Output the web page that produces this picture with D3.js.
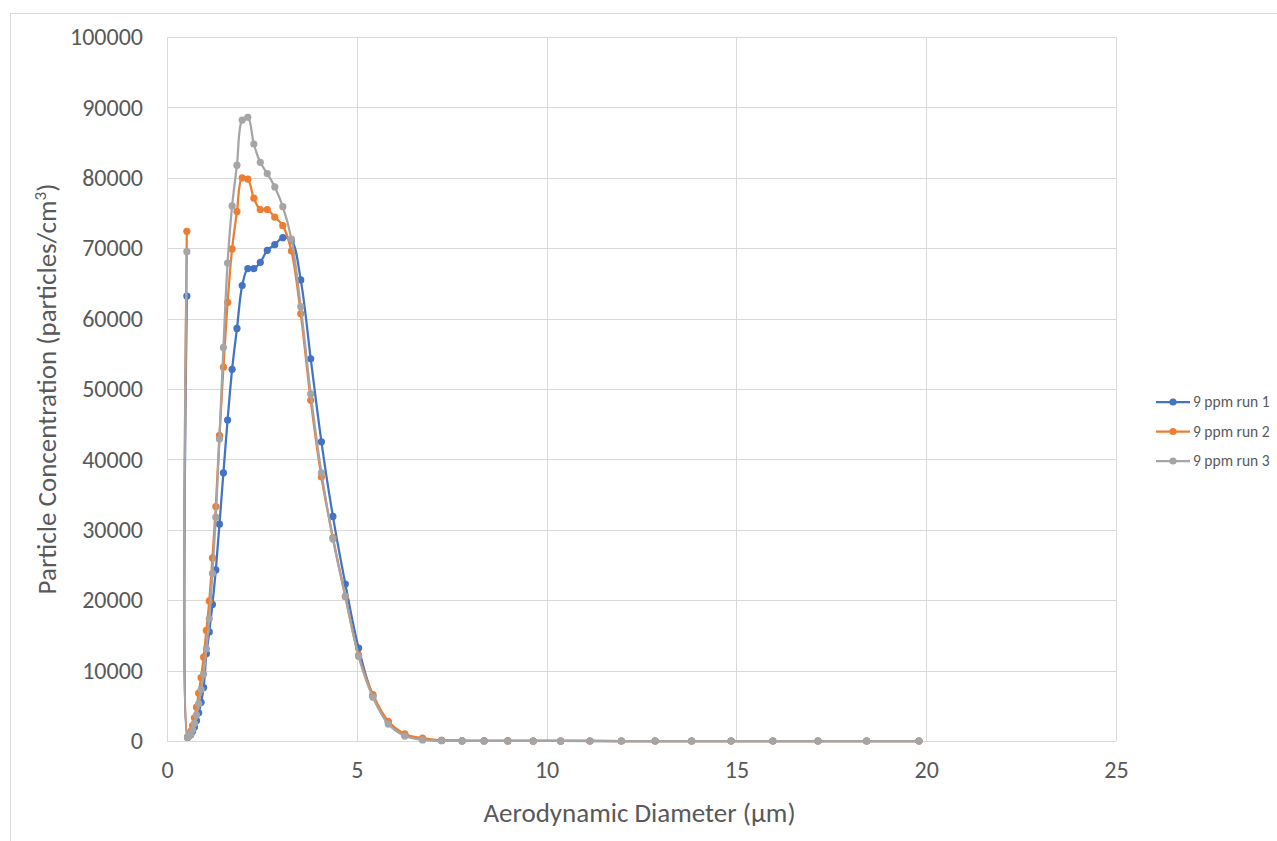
<!DOCTYPE html>
<html>
<head>
<meta charset="utf-8">
<script src="https://cdn.jsdelivr.net/npm/d3@7"></script>
<style>
  html, body { margin: 0; padding: 0; background: #fff; }
  svg { display: block; font-family: Carlito, Lato, "Open Sans", sans-serif; }
</style>
</head>
<body>
<svg id="chart" width="1277" height="841"></svg>
<script>
// APS channel midpoints (µm)
const diameters = [0.523, 0.542, 0.583, 0.626, 0.673, 0.723, 0.777, 0.835, 0.898, 0.965,
  1.037, 1.114, 1.197, 1.286, 1.382, 1.486, 1.596, 1.715, 1.843, 1.981,
  2.129, 2.288, 2.458, 2.642, 2.839, 3.051, 3.278, 3.523, 3.786, 4.068,
  4.371, 4.698, 5.048, 5.425, 5.829, 6.264, 6.732, 7.234, 7.774, 8.354,
  8.977, 9.647, 10.37, 11.14, 11.97, 12.86, 13.82, 14.86, 15.96, 17.15,
  18.43, 19.81];

// Particle concentration (particles/cm³) per channel
const run1 = [63200, 500, 700, 900, 1400, 2000, 2900, 4000, 5500, 7600,
  12400, 15500, 19400, 24300, 30800, 38100, 45600, 52800, 58600, 64700,
  67100, 67100, 68000, 69700, 70500, 71500, 71100, 65500, 54300, 42500,
  31900, 22300, 13200, 6400, 2700, 900, 250, 80, 30, 12,
  6, 3, 2, 1, 0, 0, 0, 0, 0, 0, 0, 0];

const run2 = [72400, 600, 900, 1400, 2200, 3300, 4800, 6800, 9000, 11900,
  15700, 19900, 26000, 33300, 43400, 53100, 62300, 69900, 75200, 80000,
  79800, 77100, 75500, 75500, 74400, 73200, 69600, 60700, 48400, 37500,
  28900, 20500, 12200, 6600, 2800, 1000, 400, 100, 30, 12,
  6, 3, 2, 1, 0, 0, 0, 0, 0, 0, 0, 0];

const run3 = [69500, 500, 700, 1000, 1600, 2500, 3700, 5300, 7300, 9500,
  13100, 17400, 23800, 31800, 42900, 55900, 67900, 76000, 81800, 88200,
  88600, 84800, 82200, 80600, 78700, 75900, 71300, 61700, 49300, 38100,
  28700, 20600, 12000, 6200, 2400, 700, 150, 40, 15, 8,
  4, 2, 1, 0, 0, 0, 0, 0, 0, 0, 0, 0];

const seriesNames = ["9 ppm run 1", "9 ppm run 2", "9 ppm run 3"];
const seriesColors = ["#4472C4", "#ED7D31", "#A5A5A5"];
const seriesValues = [run1, run2, run3];

const xTicks = [0, 5, 10, 15, 20, 25];
const yTicks = [0, 10000, 20000, 30000, 40000, 50000, 60000, 70000, 80000, 90000, 100000];

const svg = d3.select("#chart");

// outer chart frame
svg.append("rect")
  .attr("x", 10.5).attr("y", 13.5)
  .attr("width", 1400).attr("height", 1000)
  .attr("fill", "none").attr("stroke", "#d9d9d9").attr("stroke-width", 1);

const plot = { left: 167, right: 1116, top: 37, bottom: 741 };

const x = d3.scaleLinear().domain([0, 25]).range([plot.left, plot.right]);
const y = d3.scaleLinear().domain([0, 100000]).range([plot.bottom, plot.top]);

// gridlines
const grid = svg.append("g").attr("stroke", "#d9d9d9").attr("stroke-width", 1);
grid.selectAll("line.h").data(yTicks).join("line")
  .attr("x1", plot.left).attr("x2", plot.right)
  .attr("y1", d => Math.round(y(d)) + 0.5).attr("y2", d => Math.round(y(d)) + 0.5);
grid.selectAll("line.v").data(xTicks).join("line")
  .attr("y1", plot.top).attr("y2", plot.bottom)
  .attr("x1", d => Math.round(x(d)) + 0.5).attr("x2", d => Math.round(x(d)) + 0.5);

// axes (labels only; lines come from the grid)
const yAxis = svg.append("g")
  .attr("transform", `translate(${plot.left},0)`)
  .call(d3.axisLeft(y).tickValues(yTicks).tickSize(0).tickPadding(24).tickFormat(d3.format("d")));
const xAxis = svg.append("g")
  .attr("transform", `translate(0,${plot.bottom})`)
  .call(d3.axisBottom(x).tickValues(xTicks).tickSize(0).tickPadding(20).tickFormat(d3.format("d")));
[yAxis, xAxis].forEach(a => {
  a.select(".domain").remove();
  a.selectAll("text").attr("fill", "#595959").style("font-size", "24px")
    .style("font-family", "Carlito, Lato, sans-serif");
});

// axis titles
svg.append("text")
  .attr("x", (plot.left + plot.right) / 2 - 2).attr("y", 822)
  .attr("text-anchor", "middle").attr("fill", "#595959").style("font-size", "27px")
  .text("Aerodynamic Diameter (µm)");

const yt = svg.append("text")
  .attr("transform", `translate(56,${(plot.top + plot.bottom) / 2}) rotate(-90)`)
  .attr("text-anchor", "middle").attr("fill", "#595959").style("font-size", "27px");
yt.append("tspan").text("Particle Concentration (particles/cm");
yt.append("tspan").attr("dy", -10).style("font-size", "17px").text("3");
yt.append("tspan").attr("dy", 10).text(")");

// series
const line = d3.line()
  .x((d, i) => x(diameters[i]))
  .y(d => y(d))
  .curve(d3.curveCatmullRom.alpha(0.5));

seriesValues.forEach((vals, s) => {
  const g = svg.append("g");
  g.append("path")
    .datum(vals)
    .attr("d", line)
    .attr("fill", "none")
    .attr("stroke", seriesColors[s])
    .attr("stroke-width", 2.25)
    .attr("stroke-linejoin", "round");
  g.selectAll("circle").data(vals).join("circle")
    .attr("cx", (d, i) => x(diameters[i]))
    .attr("cy", d => y(d))
    .attr("r", 3.6)
    .attr("fill", seriesColors[s]);
});

// legend
const legend = svg.append("g").attr("transform", "translate(1156,402)");
seriesNames.forEach((name, i) => {
  const row = legend.append("g").attr("transform", `translate(0,${i * 29.5})`);
  row.append("line").attr("x1", 0).attr("x2", 34).attr("y1", 0).attr("y2", 0)
    .attr("stroke", seriesColors[i]).attr("stroke-width", 2.25);
  row.append("circle").attr("cx", 17).attr("cy", 0).attr("r", 3.6).attr("fill", seriesColors[i]);
  row.append("text").attr("x", 37).attr("y", 0).attr("dy", "0.35em")
    .attr("fill", "#595959").style("font-size", "15.5px").text(name);
});
</script>
</body>
</html>
